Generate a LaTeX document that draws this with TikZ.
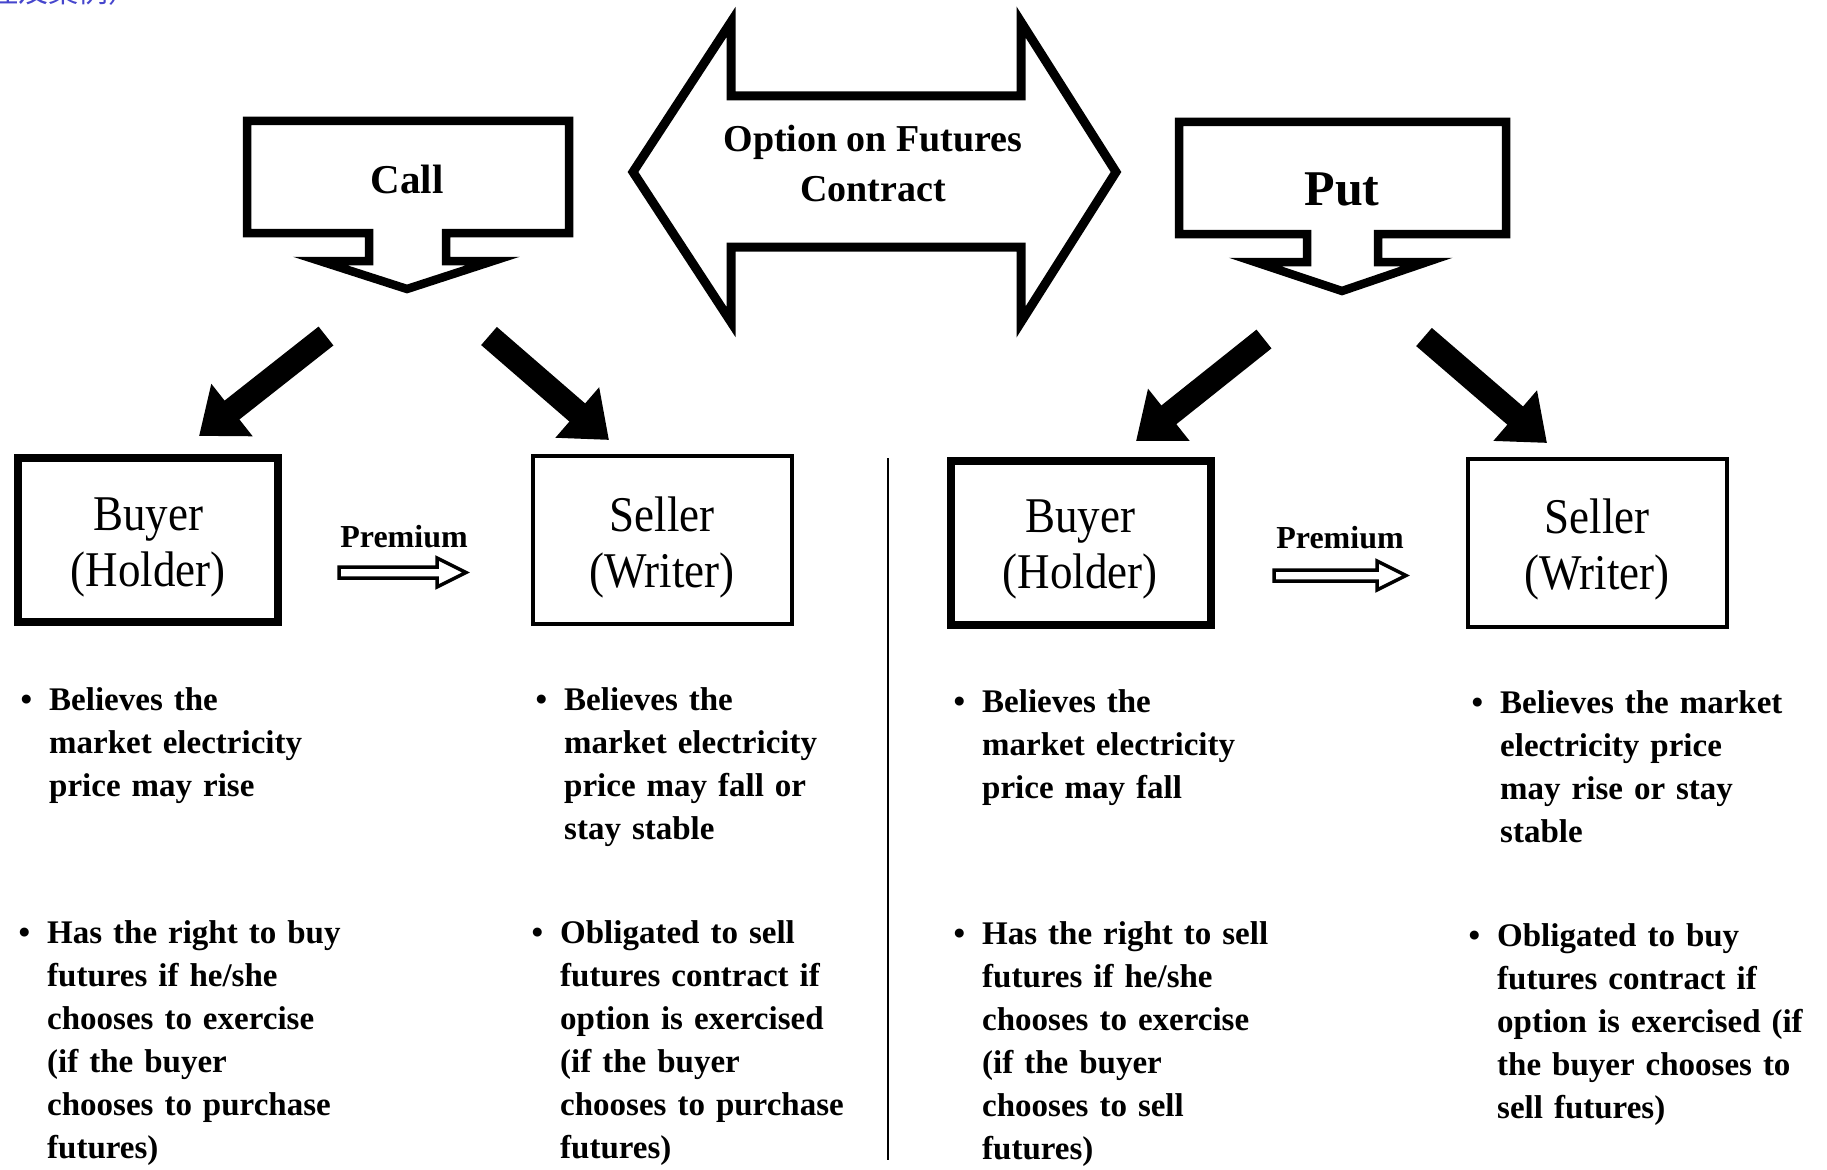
\documentclass[tikz,border=0pt]{standalone}
\usepackage{fontspec}
\setmainfont{Liberation Serif}
\newfontfamily\boxfont[FakeStretch=0.9]{Liberation Serif}
\newfontfamily\cjkfont{Noto Sans CJK SC}
\usetikzlibrary{arrows.meta}

\definecolor{inkblue}{RGB}{70,70,205}
\newcommand{\dotmark}{\llap{\textbullet\hspace{17pt}}}

\begin{document}
\begin{tikzpicture}[x=1pt,y=-1pt,
  callout/.style={draw=black, line width=8.5pt, line join=miter, fill=white},
  twoway/.style={draw=black, line width=9pt, line join=miter, fill=white},
  framebox/.style={draw=black, line width=8pt, inner sep=0pt, minimum width=260pt, minimum height=164pt},
  thinframe/.style={framebox, line width=4.5pt, minimum width=259pt, minimum height=168pt},
  boxlabel/.style={inner sep=0pt, align=center, font=\boxfont\fontsize{50}{56}\selectfont},
  headtext/.style={inner sep=0pt, align=center, font=\bfseries\fontsize{38}{50}\selectfont},
  thrust/.style={line width=24pt, -{Triangle[length=42pt 0 0, width=64pt 0 0]}},
  premarrow/.style={draw=black, line width=3.5pt, line join=miter},
  premlabel/.style={inner sep=0pt, font=\bfseries\fontsize{32}{36}\selectfont},
  bullettext/.style={anchor=north west, inner sep=0pt, text width=420pt, align=left,
                     font=\bfseries\fontsize{33}{43}\selectfont},
]
\useasboundingbox (0,0) rectangle (1827,1169);

% clipped heading fragment at the top edge
\begin{scope}
  \clip (0,0) rectangle (1827,1169);
  \node[anchor=base west, inner sep=0pt, text=inkblue,
        font=\cjkfont\fontsize{30}{30}\selectfont] (cornertext) at (-12,3) {理及案例）};
\end{scope}

% ---- central double-headed block arrow ----
\draw[twoway] (731,96) -- (1021,96) -- (1021,22) -- (1116,172) -- (1021,322)
  -- (1021,247) -- (731,247) -- (731,322) -- (633,172) -- (731,22) -- cycle;
\node[headtext] (contract) at (873,164) {Option on Futures\\Contract};

% ---- Call callout ----
\draw[callout] (247,121) -- (569,121) -- (569,233) -- (446,233) -- (446,261)
  -- (493,261) -- (407,289) -- (320,261) -- (369,261) -- (369,233) -- (247,233) -- cycle;
\node[inner sep=0pt, font=\bfseries\fontsize{41}{48}\selectfont] (call) at (407,179) {Call};

% ---- Put callout ----
\draw[callout] (1179,122) -- (1506,122) -- (1506,234) -- (1378,234) -- (1378,262)
  -- (1427,262) -- (1342,291) -- (1255,262) -- (1307,262) -- (1307,234) -- (1179,234) -- cycle;
\node[inner sep=0pt, font=\bfseries\fontsize{50}{56}\selectfont] (put) at (1342,189) {Put};

% ---- buyer / seller frames ----
\node[framebox]  (callbuyer)  at (148,540) {};
\node[thinframe] (callseller) at (662.5,540) {};
\node[framebox]  (putbuyer)   at (1081,542.5) {};
\node[thinframe] (putseller)  at (1597.5,543) {};

\node[boxlabel] (callbuyerlbl)  at (148,547)  {Buyer\\(Holder)};
\node[boxlabel] (callsellerlbl) at (662,547)  {Seller\\(Writer)};
\node[boxlabel] (putbuyerlbl)   at (1080,549) {Buyer\\(Holder)};
\node[boxlabel] (putsellerlbl)  at (1597,549) {Seller\\(Writer)};

% ---- heavy arrows from the callouts ----
\coordinate (cla) at (326,336);  \coordinate (clb) at (199,436);
\coordinate (cra) at (489,336);  \coordinate (crb) at (609,440);
\coordinate (pla) at (1264,339); \coordinate (plb) at (1136,441);
\coordinate (pra) at (1424,337); \coordinate (prb) at (1547,443);
\draw[thrust] (cla) -- (clb);
\draw[thrust] (cra) -- (crb);
\draw[thrust] (pla) -- (plb);
\draw[thrust] (pra) -- (prb);

% ---- premium arrows ----
\node[premlabel] (callprem) at (404,537) {Premium};
\draw[premarrow] (339,567) -- (437,567) -- (437,558) -- (466,572.5) -- (437,587)
  -- (437,578) -- (339,578) -- cycle;
\node[premlabel] (putprem) at (1340,538) {Premium};
\draw[premarrow] (1274,570) -- (1377,570) -- (1377,561) -- (1406,575.5) -- (1377,590)
  -- (1377,581) -- (1274,581) -- cycle;

% ---- divider ----
\draw[line width=2.5pt] (888,458) -- (888,1160);

% ---- bullet points ----
\node[bullettext] (cb1) at (49,680) {\strut\dotmark Believes the\\market electricity\\price may rise};
\node[bullettext] (cb2) at (47,913) {\strut\dotmark Has the right to buy\\futures if he/she\\chooses to exercise\\(if the buyer\\chooses to purchase\\futures)};
\node[bullettext] (cs1) at (564,680) {\strut\dotmark Believes the\\market electricity\\price may fall or\\stay stable};
\node[bullettext] (cs2) at (560,913) {\strut\dotmark Obligated to sell\\futures contract if\\option is exercised\\(if the buyer\\chooses to purchase\\futures)};
\node[bullettext] (pb1) at (982,682) {\strut\dotmark Believes the\\market electricity\\price may fall};
\node[bullettext] (pb2) at (982,914) {\strut\dotmark Has the right to sell\\futures if he/she\\chooses to exercise\\(if the buyer\\chooses to sell\\futures)};
\node[bullettext] (ps1) at (1500,683) {\strut\dotmark Believes the market\\electricity price\\may rise or stay\\stable};
\node[bullettext] (ps2) at (1497,916) {\strut\dotmark Obligated to buy\\futures contract if\\option is exercised (if\\the buyer chooses to\\sell futures)};
\end{tikzpicture}
\end{document}
